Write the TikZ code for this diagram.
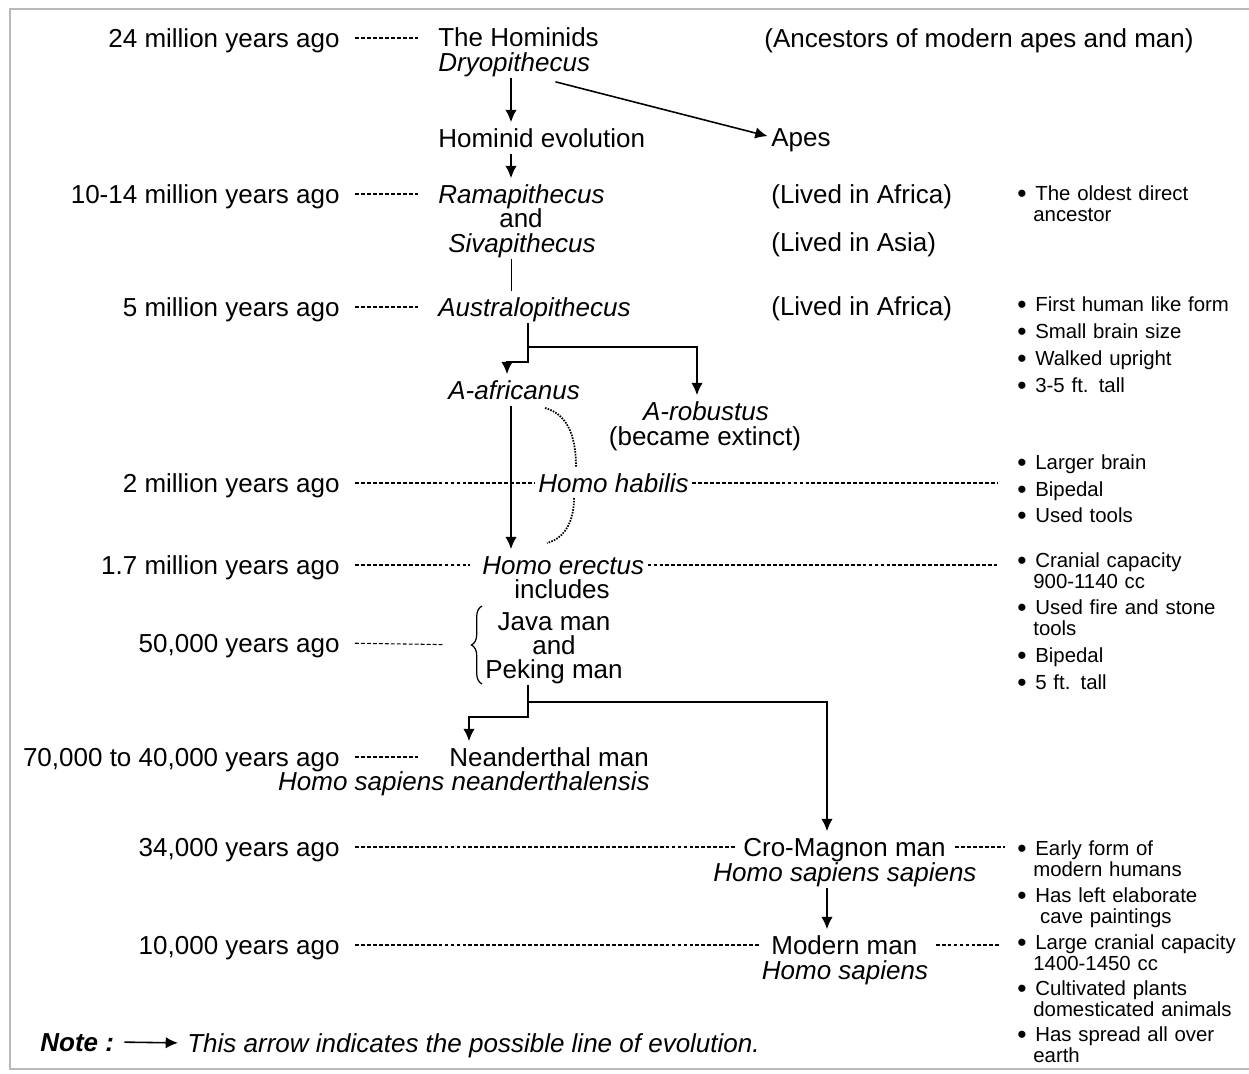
\documentclass[tikz,border=0pt]{standalone}
\usepackage{fontspec}
\setmainfont{Liberation Sans}
\usetikzlibrary{arrows.meta, calc, decorations.pathreplacing}

\newcommand{\bul}{\makebox[0.36cm][l]{\raisebox{-1.4pt}{\fontsize{15}{11}\selectfont\textbullet}}}
\newcommand{\more}{\\\hspace*{0.32cm}}

\tikzset{
    txt/.style = {inner sep=0pt, text height=14.3pt, text depth=3.3pt, font=\fontsize{14.8}{17}\selectfont},
    sp/.style = {txt, font=\fontsize{14.8}{17}\selectfont\itshape},
    era/.style = {txt, anchor=east},
    fact/.style = {inner sep=0pt, anchor=base west, text width=4.6cm, align=left, font=\fontsize{11.6}{12.4}\selectfont},
    evo/.style = {-{Latex[length=7pt, width=6.5pt]}, line width=0.9pt},
    link/.style = {line width=0.5pt},
    gap/.style = {dash pattern=on 2.2pt off 1.2pt, line width=0.6pt},
    hab/.style = {dash pattern=on 0.9pt off 0.7pt, line width=1pt},
    brc/.style = {decorate, decoration={brace, amplitude=6pt}, line width=0.7pt}
}

\begin{document}
\begin{tikzpicture}[x=0.02cm, y=-0.02cm]
\useasboundingbox (0,0) rectangle (1249,1073);
\draw[gray!55, line width=1.6pt] (1260,9) -- (10,9) -- (10,1069) -- (1260,1069);

% Time scale
\node[era] (t24) at (340,38) {24 million years ago};
\node[era] (t10) at (340,194) {10-14 million years ago};
\node[era] (t5) at (340,307) {5 million years ago};
\node[era] (t2) at (340,483) {2 million years ago};
\node[era] (t17) at (340,565) {1.7 million years ago};
\node[era] (t50k) at (340,643) {50,000 years ago};
\node[era] (t70k) at (340,757) {70,000 to 40,000 years ago};
\node[era] (t34k) at (340,847) {34,000 years ago};
\node[era] (t10k) at (340,945) {10,000 years ago};

% Lineage
\node[txt, anchor=west] (hominids) at (438,37) {The Hominids};
\node[sp, anchor=west] (dryo) at (438,62) {Dryopithecus};
\node[txt, anchor=west] (ancestors) at (764,38) {(Ancestors of modern apes and man)};
\node[txt, anchor=west] (evol) at (438,138) {Hominid evolution};
\node[txt, anchor=west] (apes) at (771,137) {Apes};
\node[sp, anchor=west] (rama) at (438,194) {Ramapithecus};
\node[txt] (and1) at (521,218) {and};
\node[sp] (siva) at (522,243) {Sivapithecus};
\node[txt, anchor=west] (africa1) at (771,194) {(Lived in Africa)};
\node[txt, anchor=west] (asia) at (771,242) {(Lived in Asia)};
\node[sp, anchor=west] (austra) at (438,307) {Australopithecus};
\node[txt, anchor=west] (africa2) at (771,306) {(Lived in Africa)};
\node[sp, anchor=west] (afri) at (448,390) {A-africanus};
\node[sp] (robu) at (706,411) {A-robustus};
\node[txt] (extinct) at (705,436) {(became extinct)};
\node[sp, anchor=west] (habilis) at (538,483) {Homo habilis};
\node[sp, anchor=west] (erectus) at (482,565) {Homo erectus};
\node[txt] (includes) at (562,589) {includes};
\node[txt] (java) at (554,621) {Java man};
\node[txt] (and2) at (554,645) {and};
\node[txt] (peking) at (554,669) {Peking man};
\node[txt, anchor=west] (neander) at (449,757) {Neanderthal man};
\node[sp, anchor=east] (hsn) at (650,781) {Homo sapiens neanderthalensis};
\node[txt, anchor=west] (cro) at (743,847) {Cro-Magnon man};
\node[sp] (hss) at (845,872) {Homo sapiens sapiens};
\node[txt, anchor=west] (modern) at (771,945) {Modern man};
\node[sp] (hs) at (845,970) {Homo sapiens};

% Features
\node[fact] (oldest) at (1017,200) {\bul The oldest direct\more ancestor};
\node[fact] (first) at (1017,311) {\bul First human like form};
\node[fact] (small) at (1017,338) {\bul Small brain size};
\node[fact] (walked) at (1017,365) {\bul Walked upright};
\node[fact] (tall35) at (1017,392) {\bul 3-5 ft. tall};
\node[fact] (larger) at (1017,469) {\bul Larger brain};
\node[fact] (bip1) at (1017,496) {\bul Bipedal};
\node[fact] (tools) at (1017,522) {\bul Used tools};
\node[fact] (cranial) at (1017,567) {\bul Cranial capacity\more 900-1140 cc};
\node[fact] (fire) at (1017,614) {\bul Used fire and stone\more tools};
\node[fact] (bip2) at (1017,662) {\bul Bipedal};
\node[fact] (tall5) at (1017,689) {\bul 5 ft. tall};
\node[fact] (early) at (1017,855) {\bul Early form of\more modern humans};
\node[fact] (cave) at (1017,902) {\bul Has left elaborate\more\ cave paintings};
\node[fact] (large) at (1017,949) {\bul Large cranial capacity\more 1400-1450 cc};
\node[fact] (cultiv) at (1017,995) {\bul Cultivated plants\more domesticated animals};
\node[fact] (spread) at (1017,1041) {\bul Has spread all over\more earth};

% Turning points
\coordinate (spine) at (511,0);
\coordinate (fork1) at (528,347);
\coordinate (fork1r) at (697,347);
\coordinate (step1) at (507,362);
\coordinate (fork2) at (528,702);
\coordinate (fork2r) at (827,702);
\coordinate (step2) at (469,717);
\coordinate (brace) at (470,645);

% Line of evolution
\draw[evo] (dryo.south -| spine) -- (evol.north -| spine);
\draw[evo, shorten >=2pt] ([xshift=-0.7cm, yshift=-0.08cm]dryo.south east) -- (apes.west);
\draw[evo] (evol.south -| spine) -- (rama.north -| spine);
\draw[link] (siva.south -| spine) -- (austra.north -| spine);
\draw[evo] (austra.south -| fork1) -- (fork1) -- (fork1r) -- (robu.north -| fork1r);
\draw[evo] (fork1) |- (step1) -- (afri.north -| step1);
\draw[evo] (afri.south -| spine) -- (erectus.north -| spine);
\draw[evo] (peking.south -| fork2) -- (fork2) -- (fork2r) -- (cro.north -| fork2r);
\draw[evo] (fork2) |- (step2) -- (neander.north -| step2);
\draw[evo] (hss.south -| fork2r) -- (modern.north -| fork2r);

% Homo habilis side path
\draw[hab] (545,408) to[out=-15, in=90] (576,467);
\draw[hab] (574,498) to[out=-90, in=15] (547,543);
\draw[brc] (482,684) -- (482,606);

% Dashed time links
\draw[gap, shorten <=0.3cm, shorten >=0.4cm] (t24.east) -- (t24.east -| hominids.west);
\draw[gap, shorten <=0.3cm, shorten >=0.4cm] (t10.east) -- (rama.west);
\draw[gap, shorten <=0.3cm, shorten >=0.4cm] (t5.east) -- (austra.west);
\draw[gap, shorten <=0.3cm, shorten >=0.06cm] (t2.east) -- (habilis.west);
\draw[gap, shorten <=0.06cm, shorten >=0.4cm] (habilis.east) -- (habilis.east -| bip1.west);
\draw[gap, shorten <=0.3cm, shorten >=0.24cm] (t17.east) -- (erectus.west);
\draw[gap, shorten <=0.06cm, shorten >=0.4cm] (erectus.east) -- (erectus.east -| cranial.west);
\draw[gap, shorten <=0.3cm, shorten >=0.54cm] (t50k.east) -- (brace);
\draw[gap, shorten <=0.3cm, shorten >=0.62cm] (t70k.east) -- (neander.west);
\draw[gap, shorten <=0.3cm, shorten >=0.16cm] (t34k.east) -- (cro.west);
\draw[gap, shorten <=0.18cm, shorten >=0.24cm] (cro.east) -- (cro.east -| early.west);
\draw[gap, shorten <=0.3cm, shorten >=0.22cm] (t10k.east) -- (modern.west);
\draw[gap, shorten <=0.36cm, shorten >=0.34cm] (modern.east) -- (modern.east -| large.west);

% Note
\node[txt, anchor=west, font=\fontsize{14.8}{17}\selectfont\bfseries\itshape] (note) at (40,1042) {Note :};
\node[sp, anchor=west] (notetext) at (187,1043) {This arrow indicates the possible line of evolution.};
\draw[evo, shorten <=0.2cm, shorten >=0.18cm] (note.east) -- (notetext.west);
\end{tikzpicture}
\end{document}
